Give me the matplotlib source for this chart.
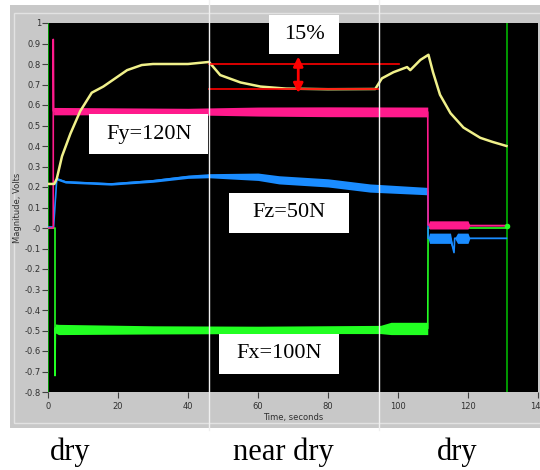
import numpy as np
import matplotlib
matplotlib.use("Agg")
import matplotlib.pyplot as plt
from matplotlib.patches import Rectangle
from matplotlib.lines import Line2D

# ---- data ----
# yellow trace (no label)
t_yel = [0, 1.8, 2.5, 4, 6.4, 9.2, 12.5, 15.8, 19.2, 22.6, 26.8, 30, 40, 46,
         49.2, 55, 60.7, 68, 80, 93.5, 95.4, 98.7, 102.6, 103.5, 106.4, 108.7,
         110, 112, 115, 118.7, 123.5, 127, 131]
v_yel = [0.215, 0.215, 0.24, 0.35, 0.46, 0.57, 0.66, 0.69, 0.73, 0.77, 0.795,
         0.80, 0.80, 0.81, 0.746, 0.71, 0.69, 0.68, 0.677, 0.678, 0.73, 0.76,
         0.785, 0.77, 0.82, 0.845, 0.76, 0.65, 0.56, 0.49, 0.44, 0.42, 0.40]

# Fy (pink): centre and noise half-width
t_fy = [0, 1.5, 1.5, 1.6, 3, 40, 60, 80, 108.5, 108.6, 109, 115, 120, 120.5, 131]
v_fy = [0.0, 0.0, 0.92, 0.57, 0.57, 0.568, 0.568, 0.567, 0.566, 0.015, 0.015,
        0.015, 0.015, 0.012, 0.012]
w_fy = [0, 0, 0, 0.018, 0.018, 0.016, 0.022, 0.024, 0.024, 0, 0.02, 0.02, 0.02,
        0.002, 0.002]

# Fz (blue)
t_fz = [0, 1.6, 2.5, 5, 18, 30, 40, 46, 60, 66, 80, 92, 108.5, 108.6, 109,
        115, 116, 116.2, 117, 120, 120.5, 131]
v_fz = [0.005, 0.005, 0.24, 0.225, 0.215, 0.23, 0.25, 0.255, 0.25, 0.235,
        0.22, 0.195, 0.18, -0.05, -0.05, -0.05, -0.12, -0.05, -0.05, -0.05,
        -0.05, -0.05]
w_fz = [0, 0, 0.006, 0.006, 0.006, 0.007, 0.008, 0.01, 0.018, 0.02, 0.02, 0.02,
        0.018, 0, 0.025, 0.025, 0, 0, 0.025, 0.025, 0.002, 0.002]

# Fx (green)
t_fx = [0, 2, 2, 2.1, 3, 30, 60, 95, 98, 108.5, 108.6, 131]
v_fx = [0.0, 0.0, -0.72, -0.49, -0.495, -0.497, -0.497, -0.495, -0.49, -0.49,
        0.0, 0.0]
w_fx = [0, 0, 0, 0.022, 0.025, 0.02, 0.018, 0.02, 0.03, 0.03, 0, 0]

cursor_t = [0, 131]
band_lines = [0.80, 0.678]      # the 15 % change levels
zone_labels = ["dry", "near dry", "dry"]
force_labels = ["Fy=120N", "Fz=50N", "Fx=100N"]

W, H = 540, 470
fig = plt.figure(figsize=(5.4, 4.7), dpi=100)
fig.patch.set_facecolor("white")


def fx_(px):
    return px / W


def fy_(py):
    return 1 - py / H


# LabVIEW grey panel
fig.patches.append(Rectangle((fx_(10), fy_(428)), fx_(530), 423 / H,
                             transform=fig.transFigure, facecolor="#c8c8c8",
                             edgecolor="none", zorder=-2))
fig.patches.append(Rectangle((fx_(14), fy_(423)), fx_(530), 410 / H,
                             transform=fig.transFigure, facecolor="none",
                             edgecolor="#e2e2e2", lw=1, zorder=-1))

ax = fig.add_axes([fx_(48), fy_(392), fx_(490), 369 / H])
ax.set_zorder(1)
ax.set_facecolor("black")
for s in ax.spines.values():
    s.set_visible(False)
ax.set_xlim(0, 140)
ax.set_ylim(-0.8, 1.0)
ax.set_xticks(np.arange(0, 141, 20))
ax.set_yticks(np.round(np.arange(-0.8, 1.01, 0.1), 1))
ax.set_yticklabels(["%g" % v for v in np.round(np.arange(-0.8, 1.01, 0.1), 1)])
ax.tick_params(axis="both", direction="out", length=4, width=0.8,
               color="#404040", labelsize=6, labelcolor="#303030")
ax.tick_params(axis="y", pad=1)
ax.tick_params(axis="x", pad=3)
ax.set_xlabel("Time, seconds", fontsize=6, color="#303030")
ax.set_ylabel("Magnitude, Volts", fontsize=6, color="#303030")
ax.xaxis.set_label_coords(0.5, -0.058)
ax.yaxis.set_label_coords(-0.053, 0.5)

# cursors
for c in cursor_t:
    ax.axvline(c, color="#00b400", lw=1.2, zorder=2)

# noisy traces
traces = [(t_fx, v_fx, w_fx, "#22ff22"),
          (t_fz, v_fz, w_fz, "#1a8cff"),
          (t_fy, v_fy, w_fy, "#ff1a8c")]
for t, v, w, col in traces:
    t = np.array(t); v = np.array(v); w = np.array(w)
    ax.fill_between(t, v - w, v + w, color=col, lw=0, zorder=3)
    ax.plot(t, v, color=col, lw=1.2, zorder=3)

ax.plot(t_yel, v_yel, color="#f0f08a", lw=1.8, zorder=4)
ax.plot([t_fy[-1]], [v_fy[-1]], "o", color="#22ff22", ms=3, zorder=4)

# 15 % annotation
ax.plot([46, 100.4], [band_lines[0]] * 2, color="red", lw=1.2, zorder=5)
ax.plot([46, 94.7], [band_lines[1]] * 2, color="red", lw=1.2, zorder=5)
ax.annotate("", xy=(71.5, 0.645), xytext=(71.5, 0.85),
            arrowprops=dict(arrowstyle="<|-|>", color="red", lw=2,
                            mutation_scale=14), zorder=6)


def box(x0, x1, y0, y1, label):
    ax.add_patch(Rectangle((x0, y0), x1 - x0, y1 - y0, facecolor="white",
                           edgecolor="none", zorder=7, clip_on=False))
    ax.text((x0 + x1) / 2, (y0 + y1) / 2, label, ha="center", va="center",
            fontsize=16, family="Liberation Serif", zorder=8)


box(63.2, 83.2, 0.849, 1.039, "15%")
box(11.8, 45.8, 0.361, 0.556, force_labels[0])
box(51.8, 86.1, -0.024, 0.171, force_labels[1])
box(48.9, 83.2, -0.712, -0.517, force_labels[2])

# white separators across the whole panel
for px in (209, 379):
    fig.add_artist(Line2D([fx_(px)] * 2, [fy_(430), 1], color="#f0f0f0",
                          lw=1, transform=fig.transFigure, zorder=10))

# zone labels under the chart
for px, lab in zip((70, 283, 457), zone_labels):
    fig.text(fx_(px), fy_(460), lab, ha="center", va="baseline",
             fontsize=22, family="Liberation Serif")

fig.savefig("out.png", dpi=100)
